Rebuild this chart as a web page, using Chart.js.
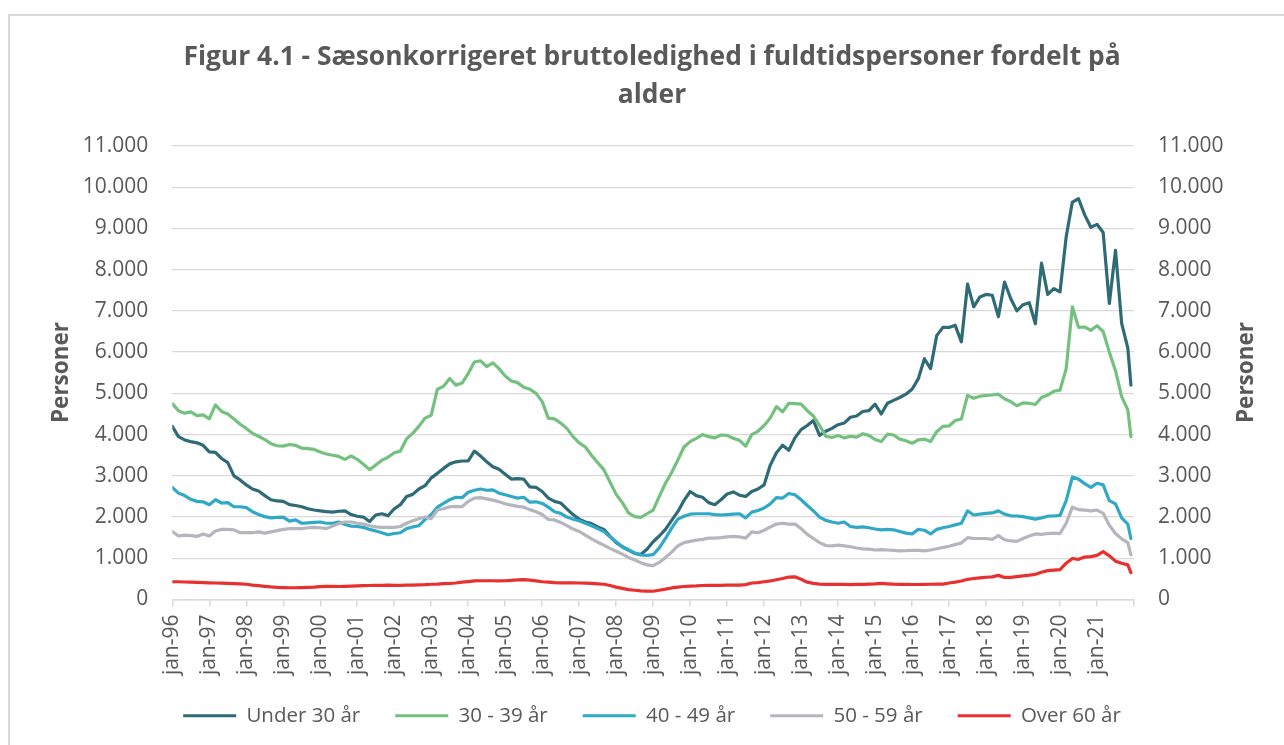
<!DOCTYPE html>
<html>
<head>
<meta charset="utf-8">
<script src="https://cdn.jsdelivr.net/npm/chart.js@4.4.1/dist/chart.umd.min.js"></script>
<style>
  html, body { margin: 0; padding: 0; background: #ffffff; overflow: hidden; }
  #frame { position: absolute; left: 8px; top: 14px; width: 1400px; height: 900px;
           border-left: 2px solid #d9d9d9; border-top: 2px solid #d9d9d9; }
  #wrap { position: absolute; left: 0; top: 0; width: 1284px; height: 745px; }
</style>
</head>
<body>
<div id="frame"></div>
<div id="wrap"><canvas id="c" width="1284" height="745"></canvas></div>
<script>
// ---------- texts ----------
const titleLines = ['Figur 4.1 - Sæsonkorrigeret bruttoledighed i fuldtidspersoner fordelt på', 'alder'];
const axisTitle = 'Personer';
const yearLabels = ['jan-96','jan-97','jan-98','jan-99','jan-00','jan-01','jan-02','jan-03','jan-04',
  'jan-05','jan-06','jan-07','jan-08','jan-09','jan-10','jan-11','jan-12','jan-13','jan-14','jan-15',
  'jan-16','jan-17','jan-18','jan-19','jan-20','jan-21'];
const yTickLabels = ['0','1.000','2.000','3.000','4.000','5.000','6.000','7.000','8.000','9.000','10.000','11.000'];
const seriesNames = ['Under 30 år', '30 - 39 år', '40 - 49 år', '50 - 59 år', 'Over 60 år'];

// ---------- sample dates: months since jan-96 (every second month, last = dec-21) ----------
const sampleMonths = [];
for (let m = 0; m <= 310; m += 2) sampleMonths.push(m);
sampleMonths.push(311);

// ---------- series values (persons) ----------
const under30 = [
  4200,3950,3870,3830,3800,3740, 3580,3570,3420,3320,3000,2900, 2780,2680,2630,2520,2420,2390,
  2380,2300,2280,2250,2200,2170, 2150,2130,2120,2140,2150,2060, 2020,2000,1890,2050,2080,2030,
  2200,2300,2500,
  2550,2680,2760,2950,3060,3180,3290,3340,3360,3360,3600,3480,3340,3220,3160,3040,2920,2930,2920,
  2730,2720,2620,2460,2380,2340,2200,2060,1950,1880,1840,1760,1700,1530,1380,1280,1200,1120,1090,1220,
  1400,1540,1700,1920,2130,2400,2620,2520,2480,2350,2300,2420,2560,2610,2530,2500,2620,2680,2780,
  3260,3560,3740,3620,3920,4120,4220,4340,3980,4080,4150,4240,4280,4420,4450,4560,4580,4740,4500,
  4760,4830,4900,4980,5100,5350,5840,5600,6400,6600,6600,6650,6250,7650,7100,7340,7400,7380,6860,
  7700,7300,7000,7150,7200,6690,8160,7400,7540,7460,8800,9640,9720,9330,9030,9100,8900,7180,8470,
  6700,6100,5200
];
const age30to39 = [
  4750,4580,4520,4550,4460,4480, 4380,4720,4560,4500,4380,4250, 4150,4030,3960,3880,3780,3730,
  3720,3760,3740,3670,3660,3640, 3580,3530,3500,3470,3400,3480, 3400,3280,3150,3260,3380,3450,
  3560,3600,3900,
  4030,4200,4400,4470,5100,5170,5360,5200,5250,5480,5760,5790,5650,5740,5600,5420,5300,5260,5150,
  5100,5000,4800,4400,4380,4280,4150,3950,3800,3700,3500,3320,3150,2850,2550,2350,2100,2010,1990,2080,
  2170,2500,2820,3080,3380,3700,3830,3910,4000,3950,3920,3990,3980,3910,3860,3720,4000,4080,4220,
  4400,4680,4550,4760,4750,4740,4580,4450,4220,3960,3930,3980,3920,3960,3940,4020,3980,3880,3830,
  4010,3990,3890,3850,3790,3870,3890,3830,4070,4200,4210,4340,4380,4950,4880,4930,4950,4960,4980,
  4870,4800,4700,4770,4760,4730,4900,4960,5050,5080,5600,7100,6600,6610,6530,6640,6500,6000,5550,
  4920,4600,3950
];
const age40to49 = [
  2720,2580,2520,2430,2380,2370, 2300,2420,2340,2350,2250,2250, 2230,2130,2060,2010,1980,1990,
  2000,1900,1930,1850,1860,1870, 1880,1850,1850,1880,1820,1780, 1770,1750,1700,1660,1620,1570,
  1600,1620,1720,
  1760,1790,1940,2060,2240,2330,2420,2480,2470,2600,2650,2680,2650,2660,2580,2540,2500,2460,2480,
  2360,2370,2330,2240,2130,2090,2000,1950,1910,1850,1790,1720,1650,1520,1400,1280,1200,1130,1080,1070,
  1090,1250,1480,1730,1950,2020,2070,2080,2080,2080,2060,2050,2060,2070,2080,1980,2120,2160,2220,
  2320,2470,2460,2570,2540,2420,2280,2150,2000,1920,1880,1850,1880,1770,1750,1760,1740,1710,1690,
  1700,1690,1650,1610,1590,1700,1680,1590,1700,1740,1770,1810,1850,2150,2050,2070,2090,2100,2150,
  2070,2030,2025,2010,1980,1950,1980,2020,2025,2040,2400,2970,2920,2810,2720,2820,2780,2400,2320,
  1980,1830,1480
];
const age50to59 = [
  1650,1540,1560,1550,1530,1590, 1540,1660,1700,1700,1690,1620, 1620,1620,1640,1610,1640,1670,
  1700,1720,1720,1720,1740,1750, 1740,1720,1780,1840,1880,1880, 1850,1830,1790,1760,1750,1750,
  1750,1770,1850,
  1910,1960,2000,1960,2170,2200,2250,2260,2250,2380,2460,2470,2440,2410,2370,2320,2290,2260,2240,
  2180,2130,2060,1940,1930,1870,1790,1710,1650,1560,1470,1390,1320,1240,1170,1100,1020,960,890,840,
  820,900,1020,1150,1300,1380,1410,1440,1460,1490,1490,1500,1520,1530,1520,1490,1640,1620,1680,
  1760,1830,1850,1830,1830,1720,1580,1480,1380,1310,1300,1320,1300,1280,1250,1230,1220,1200,1210,
  1200,1190,1180,1185,1195,1190,1180,1200,1230,1260,1290,1330,1370,1500,1480,1480,1480,1460,1550,
  1450,1420,1410,1480,1540,1590,1580,1600,1610,1600,1850,2240,2180,2170,2150,2170,2090,1800,1600,
  1470,1380,1080
];
const over60 = [
  430,430,425,420,415,410, 405,400,395,390,385,380, 370,350,335,320,305,295,
  290,285,285,290,295,300, 310,320,320,315,320,325, 330,335,340,345,345,350,
  345,345,350,
  350,355,360,370,375,385,390,400,420,435,450,455,455,455,450,455,465,475,480,
  470,450,430,420,410,405,405,405,400,395,390,380,370,340,300,270,240,225,210,205,
  200,225,250,280,300,315,325,330,340,345,345,345,350,350,350,360,400,410,430,
  450,480,510,545,550,490,420,390,375,365,365,365,365,360,365,365,375,380,390,
  380,372,368,365,364,364,366,370,372,372,400,420,450,490,510,525,540,550,585,
  535,535,555,575,590,610,660,700,712,725,880,995,975,1030,1040,1070,1160,1060,930,
  880,840,650
];

const seriesValues = [under30, age30to39, age40to49, age50to59, over60];
const seriesColors = ['#2E6B77', '#74C17F', '#2FA9C6', '#B4B5BD', '#E8312F'];

// ---------- chart ----------
const TEXT = '#595959';
const FAM = "'Open Sans', sans-serif";
Chart.defaults.font.family = FAM;

const textPlugin = {
  id: 'extraTexts',
  afterLayout(chart) {
    // lift the legend row so that it sits where the reference legend sits
    const lg = chart.legend;
    if (lg) { lg.top -= 9; lg.bottom -= 9; }
  },
  afterDraw(chart) {
    const ctx = chart.ctx;
    ctx.save();
    ctx.fillStyle = TEXT;
    ctx.textAlign = 'center';
    ctx.textBaseline = 'alphabetic';
    ctx.font = "bold 26.4px 'Open Sans'";
    titleLines.forEach((t, i) => ctx.fillText(t, 652, 65 + i * 38));
    ctx.font = "bold 22.5px 'Open Sans'";
    [68, 1253].forEach(x => {
      ctx.save();
      ctx.translate(x, 372.5);
      ctx.rotate(-Math.PI / 2);
      ctx.fillText(axisTitle, 0, 0);
      ctx.restore();
    });
    ctx.restore();
  }
};

const datasets = seriesValues.map((vals, i) => ({
  label: seriesNames[i],
  data: vals.map((v, k) => ({ x: sampleMonths[k], y: v })),
  borderColor: seriesColors[i],
  backgroundColor: seriesColors[i],
  borderWidth: 3.2,
  pointRadius: 0,
  tension: 0,
  borderJoinStyle: 'round',
  borderCapStyle: 'round',
  order: seriesValues.length - i,
  yAxisID: 'y'
}));

const tickFont = { family: FAM, size: 21 };

new Chart(document.getElementById('c'), {
  type: 'line',
  data: { datasets },
  options: {
    responsive: false,
    animation: false,
    layout: { padding: { top: 146, left: 20, right: 0, bottom: 0 } },
    plugins: {
      title: { display: false },
      tooltip: { enabled: false },
      legend: {
        position: 'bottom',
        labels: {
          usePointStyle: true,
          pointStyle: 'line',
          pointStyleWidth: 53,
          padding: 35,
          color: TEXT,
          font: { family: FAM, size: 20.5 },
          sort: (a, b) => a.datasetIndex - b.datasetIndex
        }
      }
    },
    scales: {
      x: {
        type: 'linear',
        min: 0,
        max: 312,
        afterFit: s => { s.height = 80; },
        border: { display: true, color: '#d9d9d9', width: 1.5 },
        grid: { drawOnChartArea: false, drawTicks: true, tickLength: 7, color: '#d9d9d9', lineWidth: 1.5 },
        ticks: {
          stepSize: 12,
          autoSkip: false,
          minRotation: 90,
          maxRotation: 90,
          padding: 8,
          color: TEXT,
          font: tickFont,
          callback: v => { const i = Math.round(v / 12); return i < yearLabels.length ? yearLabels[i] : ''; }
        }
      },
      y: {
        position: 'left',
        min: 0,
        max: 11000,
        afterFit: s => { s.width = 152.3; },
        border: { display: false },
        grid: { color: '#d9d9d9', lineWidth: 1.3, drawTicks: false },
        ticks: { stepSize: 1000, padding: 24, color: TEXT, font: tickFont,
                 callback: v => yTickLabels[Math.round(v / 1000)] }
      },
      y2: {
        position: 'right',
        min: 0,
        max: 11000,
        afterFit: s => { s.width = 150; },
        border: { display: false },
        grid: { display: false, drawTicks: false },
        ticks: { stepSize: 1000, padding: 24, color: TEXT, font: tickFont,
                 callback: v => yTickLabels[Math.round(v / 1000)] }
      }
    }
  },
  plugins: [textPlugin]
});
</script>
</body>
</html>
